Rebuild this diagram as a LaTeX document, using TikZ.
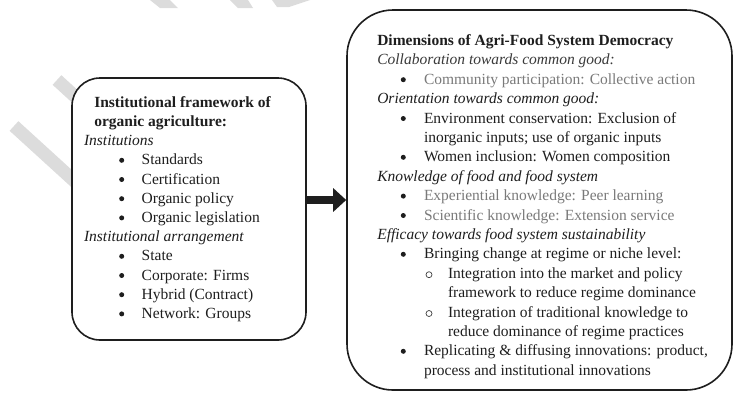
\documentclass[tikz,border=0pt]{standalone}
\usepackage{fontspec}
\setmainfont{Liberation Serif}
\usetikzlibrary{arrows.meta}
\definecolor{ink}{HTML}{1E1E1E}
\definecolor{soft}{HTML}{7A7A7A}
\definecolor{midg}{HTML}{3A3A3A}
\definecolor{wm}{HTML}{DCDCDC}
\newcommand\fsz{\fontsize{15.5bp}{19bp}\selectfont}
\newcommand\Lb[3]{\node[bul] (#1d) at (121.7,#2-4.6) {}; \node[txt] (#1) at (141.7,#2) {#3};}
\newcommand\Rb[4]{\node[bul] (#1d) at (403.3,#2-4.6) {}; \node[txt,#4] (#1) at (424,#2) {#3};}
\newcommand\Rs[3]{\node[sbul] (#1d) at (429,#2-3.6) {}; \node[txt] (#1) at (448,#2) {#3};}
\begin{document}
\begin{tikzpicture}[x=1bp,y=-1bp,
  txt/.style={anchor=base west, inner sep=0pt, outer sep=0pt, font=\fsz, text=ink},
  bt/.style={txt, font=\fsz\bfseries},
  it/.style={txt, font=\fsz\itshape},
  bul/.style={circle, fill=ink, inner sep=0pt, minimum size=5bp},
  sbul/.style={circle, draw=ink!85, line width=0.7bp, inner sep=0pt, minimum size=6bp},
  box/.style={draw=ink, line width=1.6bp, fill=white, rounded corners=#1},
  wmark/.style={wm, line width=13bp}]
\useasboundingbox (0,0) rectangle (734,400);
% watermark fragments
\draw[wmark] (14,126) -- (82,188);
\draw[wmark] (57,80) -- (92,112);
\fill[wm] (150,0) -- (170,0) -- (178,8) -- (160,8) -- cycle;
\fill[wm] (230,0) -- (248,0) -- (253,8) -- (238,8) -- cycle;
\fill[wm] (272,0) -- (310,0) -- (289,7) -- (277,7) -- cycle;
% boxes
\node[box=28bp, minimum width=234bp, minimum height=262bp] (left) at (189,209) {};
\node[box=46bp, minimum width=385bp, minimum height=380bp] (right) at (539.5,200) {};
% arrow
\draw[ink, line width=8bp, -{Triangle[length=13bp,width=23bp]}] (left.east |- right.west) -- (right.west);
% left text
\node[bt] (l0) at (94.3,107.3) {Institutional framework of};
\node[bt] (l1) at (94.3,126.5) {organic agriculture:};
\node[it] (l2) at (84,145.7) {Institutions};
\Lb{l3}{164.9}{Standards}
\Lb{l4}{184.1}{Certification}
\Lb{l5}{203.3}{Organic policy}
\Lb{l6}{222.5}{Organic legislation}
\node[it] (l7) at (84,241.7) {Institutional arrangement};
\Lb{l8}{260.9}{State}
\Lb{l9}{280.1}{Corporate: Firms}
\Lb{l10}{299.3}{Hybrid (Contract)}
\Lb{l11}{318.5}{Network: Groups}
% right text
\node[bt] (r0) at (377.3,45.5) {Dimensions of Agri-Food System Democracy};
\node[it, text=midg] (r1) at (377.3,64.9) {Collaboration towards common good:};
\Rb{r2}{84.3}{Community participation: Collective action}{text=soft}
\node[it] (r3) at (377.3,103.7) {Orientation towards common good:};
\Rb{r4}{123.1}{Environment conservation: Exclusion of}{}
\node[txt] (r5) at (424,142.5) {inorganic inputs; use of organic inputs};
\Rb{r6}{161.9}{Women inclusion: Women composition}{}
\node[it] (r7) at (377.3,181.3) {Knowledge of food and food system};
\Rb{r8}{200.7}{Experiential knowledge: Peer learning}{text=soft}
\Rb{r9}{220.1}{Scientific knowledge: Extension service}{text=soft}
\node[it] (r10) at (377.3,239.5) {Efficacy towards food system sustainability};
\Rb{r11}{258.9}{Bringing change at regime or niche level:}{}
\Rs{r12}{278.3}{Integration into the market and policy}
\node[txt] (r13) at (448,297.7) {framework to reduce regime dominance};
\Rs{r14}{317.1}{Integration of traditional knowledge to}
\node[txt] (r15) at (448,336.5) {reduce dominance of regime practices};
\Rb{r16}{355.9}{Replicating \& diffusing innovations: product,}{}
\node[txt] (r17) at (424,375.3) {process and institutional innovations};
\end{tikzpicture}
\end{document}
